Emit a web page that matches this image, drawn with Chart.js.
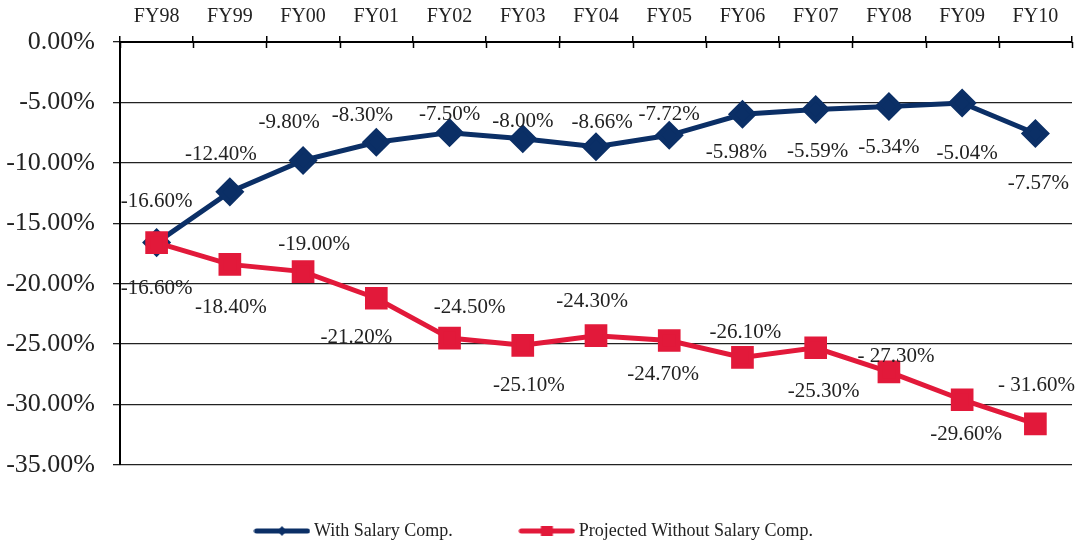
<!DOCTYPE html>
<html lang="en">
<head>
    <meta charset="UTF-8">
    <title>Salary Comp. Chart</title>
    <script src="https://cdn.jsdelivr.net/npm/chart.js"></script>
    <style>
        html, body { margin: 0; padding: 0; background: #fff; }
        #wrap { width: 1081px; height: 542px; }
    </style>
</head>
<body>
    <div id="wrap"><canvas id="lineChart"></canvas></div>

    <script>
        const years = ['FY98', 'FY99', 'FY00', 'FY01', 'FY02', 'FY03', 'FY04', 'FY05', 'FY06', 'FY07', 'FY08', 'FY09', 'FY10'];
        const withComp = [-16.6, -12.4, -9.8, -8.3, -7.5, -8.0, -8.66, -7.72, -5.98, -5.59, -5.34, -5.04, -7.57];
        const withoutComp = [-16.6, -18.4, -19.0, -21.2, -24.5, -25.1, -24.3, -24.7, -26.1, -25.3, -27.3, -29.6, -31.6];
        const withLabels = ['-16.60%', '-12.40%', '-9.80%', '-8.30%', '-7.50%', '-8.00%', '-8.66%', '-7.72%', '-5.98%', '-5.59%', '-5.34%', '-5.04%', '-7.57%'];
        const withoutLabels = ['-16.60%', '-18.40%', '-19.00%', '-21.20%', '-24.50%', '-25.10%', '-24.30%', '-24.70%', '-26.10%', '-25.30%', '- 27.30%', '-29.60%', '- 31.60%'];

        // label nudges (px) from each point, like the hand-placed labels in the original
        const withOffsets = [[0, -43], [-9, -39], [-14, -40], [-14, -29], [0, -20], [0, -19], [6, -26], [0, -23], [-6, 36], [2, 40], [0, 39], [5, 49], [3, 48]];
        const withoutOffsets = [[0, 44], [1, 41], [11, -29], [-20, 37], [20, -33], [6, 38], [-4, -36], [-6, 32], [3, -27], [8, 42], [7, -17], [4, 33], [1, -40]];

        const BLUE = '#0b2f66';
        const RED = '#e2193a';
        const FONT = '"Liberation Serif", "Times New Roman", serif';

        function legendIcon(color, kind) {
            const c = document.createElement('canvas');
            c.width = 57; c.height = 14;
            const g = c.getContext('2d');
            g.strokeStyle = color; g.lineWidth = 5; g.lineCap = 'round';
            g.beginPath(); g.moveTo(3, 7); g.lineTo(54, 7); g.stroke();
            g.fillStyle = color;
            g.beginPath();
            if (kind === 'diamond') {
                g.moveTo(28.5, 2); g.lineTo(33, 7); g.lineTo(28.5, 12); g.lineTo(24, 7);
            } else {
                g.rect(22.5, 2, 12, 10);
            }
            g.fill();
            return c;
        }
        const icons = [legendIcon(BLUE, 'diamond'), legendIcon(RED, 'square')];

        const pointLabels = {
            id: 'pointLabels',
            afterDatasetsDraw(chart) {
                const ctx = chart.ctx;
                const sets = [[withLabels, withOffsets], [withoutLabels, withoutOffsets]];
                ctx.save();
                ctx.font = '21px ' + FONT;
                ctx.fillStyle = '#222';
                ctx.textAlign = 'center';
                ctx.textBaseline = 'middle';
                sets.forEach(([texts, offs], di) => {
                    chart.getDatasetMeta(di).data.forEach((pt, i) => {
                        ctx.fillText(texts[i], pt.x + offs[i][0], pt.y + offs[i][1] + 2);
                    });
                });
                ctx.restore();
            }
        };

        // small tick marks on the inner side of the top axis
        const innerTicks = {
            id: 'innerTicks',
            afterDraw(chart) {
                const x = chart.scales.x;
                const ctx = chart.ctx;
                const step = (x.right - x.left) / years.length;
                ctx.save();
                ctx.strokeStyle = '#000';
                ctx.lineWidth = 1.5;
                ctx.beginPath();
                for (let i = 0; i <= years.length; i++) {
                    const px = Math.round(x.left + i * step) + 0.5;
                    ctx.moveTo(px, x.bottom);
                    ctx.lineTo(px, x.bottom + 6);
                }
                ctx.stroke();
                ctx.restore();
            }
        };

        new Chart(document.getElementById('lineChart').getContext('2d'), {
            type: 'line',
            data: {
                labels: years,
                datasets: [
                    {
                        label: 'With Salary Comp.',
                        data: withComp,
                        borderColor: BLUE,
                        backgroundColor: BLUE,
                        borderWidth: 5,
                        pointStyle: 'rectRot',
                        pointRadius: 11,
                        pointHoverRadius: 11,
                        tension: 0,
                        order: 2
                    },
                    {
                        label: 'Projected Without Salary Comp.',
                        data: withoutComp,
                        borderColor: RED,
                        backgroundColor: RED,
                        borderWidth: 5,
                        pointStyle: 'rect',
                        pointRadius: 12.5,
                        pointHoverRadius: 12.5,
                        tension: 0,
                        order: 1
                    }
                ]
            },
            options: {
                responsive: true,
                maintainAspectRatio: false,
                animation: false,
                layout: { autoPadding: false, padding: { top: 0, right: 9, bottom: -8, left: 0 } },
                scales: {
                    x: {
                        position: 'top',
                        offset: true,
                        afterFit: (s) => { s.height = 42; s.paddingLeft = 0; s.paddingRight = 0; },
                        border: { color: '#000', width: 2 },
                        grid: { offset: true, drawOnChartArea: false, color: '#000', lineWidth: 1.5, tickLength: 6 },
                        ticks: { color: '#222', font: { family: FONT, size: 20 }, padding: 7, maxRotation: 0 }
                    },
                    y: {
                        min: -35,
                        max: 0,
                        afterFit: (s) => { s.width = 120; },
                        border: { color: '#000', width: 2 },
                        grid: { color: '#222', lineWidth: 1.3, tickLength: 7 },
                        ticks: {
                            stepSize: 5,
                            color: '#222',
                            padding: 18,
                            font: { family: FONT, size: 26 },
                            callback: (v) => v.toFixed(2) + '%'
                        }
                    }
                },
                plugins: {
                    tooltip: { enabled: false },
                    legend: {
                        position: 'bottom',
                        labels: {
                            usePointStyle: true,
                            pointStyleWidth: 46,
                            padding: 57,
                            color: '#222',
                            font: { family: FONT, size: 18 },
                            sort: (a, b) => a.datasetIndex - b.datasetIndex,
                            generateLabels(chart) {
                                const items = Chart.defaults.plugins.legend.labels.generateLabels(chart);
                                items.forEach(it => {
                                    it.pointStyle = icons[it.datasetIndex];
                                    if (it.datasetIndex === 0) it.text += '\u2002\u2009\u200a';
                                });
                                return items;
                            }
                        }
                    }
                }
            },
            plugins: [pointLabels, innerTicks]
        });
    </script>
</body>
</html>
